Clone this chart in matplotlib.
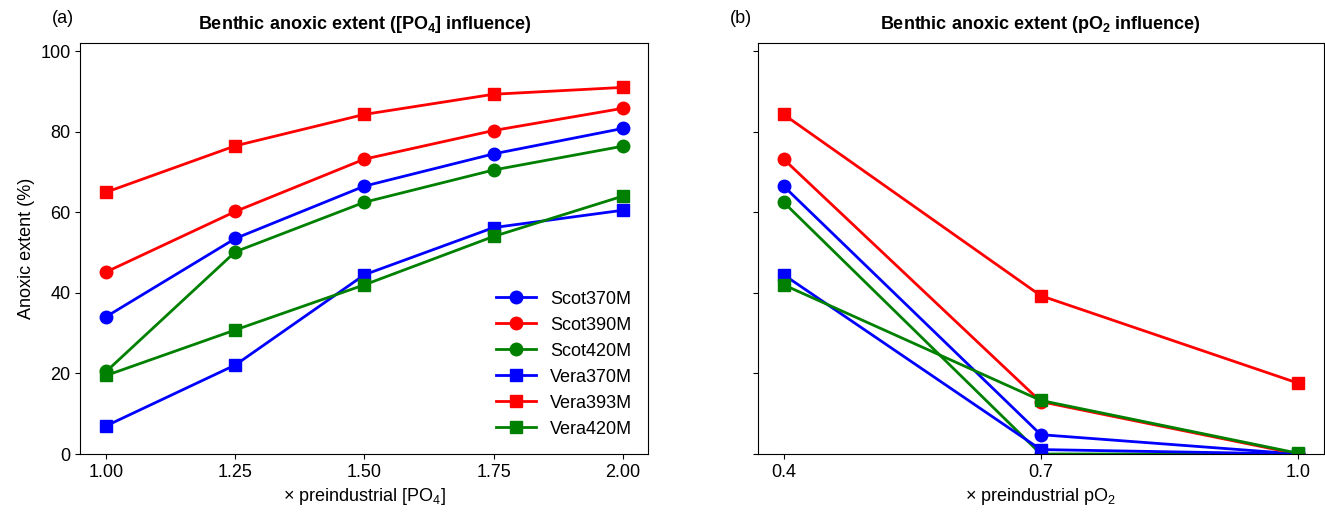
import numpy as np
import matplotlib
matplotlib.use('Agg')
from matplotlib import pyplot as plt

plt.rcParams['font.family'] = ['Liberation Sans', 'DejaVu Sans']
plt.rcParams['mathtext.default'] = 'regular'

# data
po4 = [1.00, 1.25, 1.50, 1.75, 2.00]
po2 = [0.4, 0.7, 1.0]
names = ['Scot370M', 'Scot390M', 'Scot420M', 'Vera370M', 'Vera393M', 'Vera420M']
colors = ['blue', 'red', 'green', 'blue', 'red', 'green']
markers = ['o', 'o', 'o', 's', 's', 's']

# panel (a): [PO4] influence
scot370_po4 = [34.1, 53.5, 66.5, 74.5, 80.8]
scot390_po4 = [45.2, 60.2, 73.2, 80.3, 85.8]
scot420_po4 = [20.5, 50.2, 62.5, 70.5, 76.4]
vera370_po4 = [7.0, 22.1, 44.5, 56.2, 60.5]
vera393_po4 = [65.0, 76.5, 84.3, 89.3, 91.0]
vera420_po4 = [19.5, 30.8, 42.0, 54.0, 64.0]

# panel (b): pO2 influence
scot370_po2 = [66.5, 4.8, 0.0]
scot390_po2 = [73.2, 13.0, 0.0]
scot420_po2 = [62.5, 0.0, 0.0]
vera370_po2 = [44.5, 1.1, 0.0]
vera393_po2 = [84.3, 39.3, 17.6]
vera420_po2 = [42.0, 13.3, 0.2]

series_a = [scot370_po4, scot390_po4, scot420_po4, vera370_po4, vera393_po4, vera420_po4]
series_b = [scot370_po2, scot390_po2, scot420_po2, vera370_po2, vera393_po2, vera420_po2]

fs = 13
fig = plt.figure(figsize=(13.25, 5.13), dpi=100)
ax1 = fig.add_axes([0.0607, 0.115, 0.4287, 0.801])
ax2 = fig.add_axes([0.572, 0.115, 0.427, 0.801], sharey=ax1)

for ys, name, c, m in zip(series_a, names, colors, markers):
    ax1.plot(po4, ys, color=c, marker=m, markersize=9, linewidth=2.0, label=name)
for ys, name, c, m in zip(series_b, names, colors, markers):
    ax2.plot(po2, ys, color=c, marker=m, markersize=9, linewidth=2.0, label=name)

ax1.set_ylim(0, 102)
ax1.set_xticks(po4)
ax1.set_xticklabels(['1.00', '1.25', '1.50', '1.75', '2.00'])
ax1.set_xlabel('× preindustrial [PO$_4$]', fontsize=fs)
ax1.set_ylabel('Anoxic extent (%)', fontsize=fs)
ax1.set_title('Benthic anoxic extent ([PO$_4$] influence)', fontsize=fs, fontweight='bold', pad=10)
ax1.legend(loc='lower right', frameon=False, fontsize=fs, handlelength=2.2, labelspacing=0.5)
ax1.text(-0.05, 1.06, '(a)', transform=ax1.transAxes, fontsize=fs, va='center', ha='left')

ax2.set_xticks(po2)
ax2.set_xticklabels(['0.4', '0.7', '1.0'])
ax2.set_xlabel('× preindustrial pO$_2$', fontsize=fs)
ax2.set_title('Benthic anoxic extent (pO$_2$ influence)', fontsize=fs, fontweight='bold', pad=10)
ax2.tick_params(labelleft=False)
ax2.text(-0.05, 1.06, '(b)', transform=ax2.transAxes, fontsize=fs, va='center', ha='left')

for ax in (ax1, ax2):
    ax.tick_params(labelsize=fs)

plt.savefig('out.png', dpi=100)
